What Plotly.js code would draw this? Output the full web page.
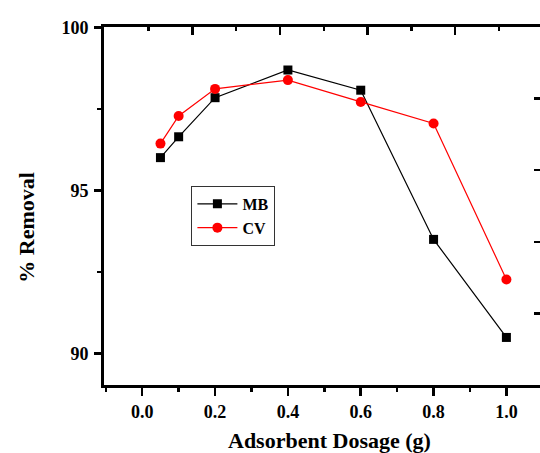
<!DOCTYPE html>
<html>
<head>
<meta charset="utf-8">
<script src="https://cdn.plot.ly/plotly-3.0.1.min.js"></script>
<style>
  html, body { margin: 0; padding: 0; overflow: hidden; background: #fff; }
  #chart { width: 548px; height: 453px; }
</style>
</head>
<body>
<div id="chart"></div>
<script>
// Adsorbent dosage (g) and dye removal (%) for methylene blue and crystal violet
const dosage = [0.05, 0.1, 0.2, 0.4, 0.6, 0.8, 1.0];
const removalMB = [96.01, 96.65, 97.85, 98.70, 98.08, 93.50, 90.49];
const removalCV = [96.44, 97.29, 98.12, 98.39, 97.72, 97.06, 92.27];
const seriesNames = ['MB', 'CV'];

const FONT = 'Liberation Serif';

const traces = [
  {
    x: dosage, y: removalMB, name: seriesNames[0],
    type: 'scatter', mode: 'lines+markers',
    line: { color: '#000000', width: 1.2 },
    marker: { symbol: 'square', size: 9, color: '#000000' }
  },
  {
    x: dosage, y: removalCV, name: seriesNames[1],
    type: 'scatter', mode: 'lines+markers',
    line: { color: '#ff0000', width: 1.2 },
    marker: { symbol: 'circle', size: 10, color: '#ff0000' }
  },
  // transparent copy that keeps the top/right frame axes active
  {
    x: dosage, y: removalMB, xaxis: 'x2', yaxis: 'y2',
    type: 'scatter', mode: 'lines', opacity: 0,
    showlegend: false, hoverinfo: 'skip'
  }
];

const layout = {
  width: 548, height: 453,
  margin: { l: 104, r: 7, t: 27, b: 68 },
  paper_bgcolor: '#ffffff', plot_bgcolor: '#ffffff',
  font: { family: FONT, weight: 'bold', color: '#000000', size: 18 },
  showlegend: true,
  legend: {
    x: 0.2, y: 0.556, xanchor: 'left', yanchor: 'top',
    bgcolor: '#ffffff', bordercolor: '#333333', borderwidth: 1,
    font: { family: FONT, weight: 'bold', size: 16, color: '#000000' },
    tracegroupgap: 0, itemwidth: 40
  },
  xaxis: {
    range: [-0.105, 1.095], tick0: 0, dtick: 0.2, tickformat: '.1f',
    showgrid: false, zeroline: false,
    showline: true, linecolor: '#000000', linewidth: 3,
    ticks: 'outside', ticklen: 8, tickwidth: 2.5, tickcolor: '#000000',
    minor: { dtick: 0.1, ticks: 'outside', ticklen: 4, tickwidth: 2.5, tickcolor: '#000000', showgrid: false },
    tickfont: { family: FONT, weight: 'bold', size: 18 }
  },
  yaxis: {
    range: [89.03, 100.02], tick0: 90, dtick: 5,
    showgrid: false, zeroline: false,
    showline: true, linecolor: '#000000', linewidth: 3,
    ticks: 'outside', ticklen: 7, tickwidth: 2.5, tickcolor: '#000000',
    minor: { dtick: 2.5, ticks: 'outside', ticklen: 4, tickwidth: 2.5, tickcolor: '#000000', showgrid: false },
    tickfont: { family: FONT, weight: 'bold', size: 18 },
    ticklabelstandoff: 2
  },
  // frame on the top and right with its own inward tick marks
  xaxis2: {
    overlaying: 'x', side: 'top', anchor: 'y2',
    range: [-0.01, 4.98], tick0: 0, dtick: 1,
    showgrid: false, zeroline: false, showticklabels: false,
    showline: true, linecolor: '#000000', linewidth: 3,
    ticks: 'inside', ticklen: 8, tickwidth: 2.5, tickcolor: '#000000',
    minor: { dtick: 0.5, ticks: 'inside', ticklen: 4, tickwidth: 2.5, tickcolor: '#000000', showgrid: false }
  },
  yaxis2: {
    overlaying: 'y', side: 'right', anchor: 'x2',
    range: [0, 5], tick0: 0, dtick: 1,
    showgrid: false, zeroline: false, showticklabels: false,
    showline: true, linecolor: '#000000', linewidth: 3,
    ticks: 'inside', ticklen: 7, tickwidth: 2.5, tickcolor: '#000000'
  },
  annotations: [
    {
      text: '% Removal', textangle: -90, showarrow: false,
      xref: 'paper', yref: 'paper', x: -0.178, y: 0.44,
      xanchor: 'center', yanchor: 'middle',
      font: { family: FONT, weight: 'bold', size: 22, color: '#000000' }
    },
    {
      text: 'Adsorbent Dosage (g)', showarrow: false,
      xref: 'paper', yref: 'paper', x: 0.517, y: -0.156,
      xanchor: 'center', yanchor: 'middle',
      font: { family: FONT, weight: 'bold', size: 22, color: '#000000' }
    }
  ]
};

Plotly.newPlot('chart', traces, layout, { displayModeBar: false, staticPlot: true });
</script>
</body>
</html>
